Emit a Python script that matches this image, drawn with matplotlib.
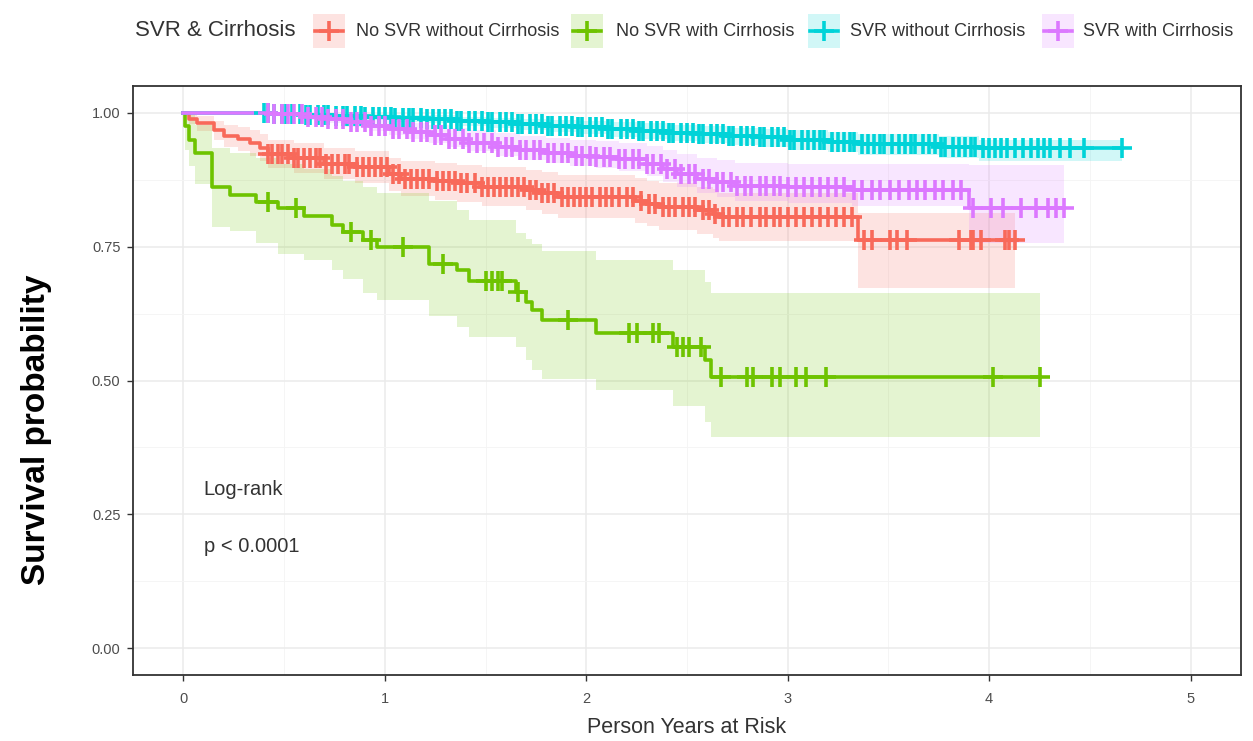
import numpy as np
import matplotlib
matplotlib.use("Agg")
import matplotlib.pyplot as plt
from matplotlib.lines import Line2D
from matplotlib.patches import Rectangle

# ---------------- data ----------------
groups = ["No SVR without Cirrhosis", "No SVR with Cirrhosis",
          "SVR without Cirrhosis", "SVR with Cirrhosis"]
colors = ["#F8695A", "#6EC300", "#00D3D8", "#DC78FF"]

# No SVR without Cirrhosis
red_time = [0, 0.03, 0.07, 0.15, 0.20, 0.27, 0.33, 0.38, 0.42, 0.55, 0.70, 0.85, 1.02, 1.08,
            1.25, 1.36, 1.48, 1.70, 1.78, 1.86, 2.24, 2.30, 2.36, 2.55, 2.63, 2.66, 3.35]
red_surv = [1.0, 0.989, 0.980, 0.967, 0.957, 0.951, 0.944, 0.935, 0.923, 0.915, 0.905, 0.898, 0.885, 0.877,
            0.872, 0.868, 0.861, 0.856, 0.850, 0.843, 0.836, 0.830, 0.824, 0.818, 0.811, 0.805, 0.762]
red_upper = [1.0, 0.998, 0.994, 0.985, 0.978, 0.973, 0.968, 0.960, 0.950, 0.943, 0.934, 0.928, 0.916, 0.910,
             0.906, 0.903, 0.898, 0.894, 0.889, 0.884, 0.878, 0.873, 0.868, 0.862, 0.857, 0.851, 0.812]
red_lower = [1.0, 0.979, 0.966, 0.949, 0.936, 0.929, 0.920, 0.910, 0.896, 0.887, 0.876, 0.868, 0.854, 0.845,
             0.838, 0.833, 0.825, 0.818, 0.811, 0.803, 0.795, 0.788, 0.781, 0.774, 0.766, 0.760, 0.673]
red_censor = [0.42, 0.44, 0.47, 0.49, 0.52, 0.55, 0.57, 0.60, 0.63, 0.66, 0.68, 0.71, 0.74, 0.77, 0.80,
              0.82, 0.86, 0.89, 0.92, 0.95, 0.98, 1.01, 1.04, 1.07, 1.10, 1.13, 1.16, 1.19, 1.22, 1.26,
              1.29, 1.32, 1.35, 1.38, 1.41, 1.45, 1.48, 1.51, 1.54, 1.57, 1.60, 1.63, 1.66, 1.69, 1.72,
              1.75, 1.78, 1.81, 1.84, 1.88, 1.91, 1.94, 1.97, 2.00, 2.03, 2.07, 2.10, 2.13, 2.16, 2.20,
              2.23, 2.27, 2.31, 2.34, 2.38, 2.41, 2.44, 2.48, 2.51, 2.54, 2.58, 2.61, 2.64, 2.68, 2.71,
              2.75, 2.78, 2.82, 2.86, 2.89, 2.93, 2.96, 3.00, 3.04, 3.08, 3.12, 3.16, 3.20, 3.24, 3.28,
              3.32, 3.38, 3.42, 3.51, 3.54, 3.59, 3.85, 3.91, 3.92, 3.96, 4.08, 4.10, 4.13]

# No SVR with Cirrhosis
green_time = [0, 0.01, 0.03, 0.06, 0.14, 0.23, 0.36, 0.47, 0.60, 0.74, 0.79, 0.89, 0.96, 1.22,
              1.36, 1.42, 1.65, 1.70, 1.73, 1.78, 2.05, 2.43, 2.59, 2.62]
green_surv = [1.0, 0.975, 0.950, 0.924, 0.861, 0.846, 0.833, 0.822, 0.808, 0.790, 0.777, 0.762, 0.749, 0.718,
              0.706, 0.685, 0.666, 0.647, 0.632, 0.613, 0.589, 0.563, 0.538, 0.507]
green_upper = [1.0, 1.0, 0.995, 0.978, 0.935, 0.925, 0.915, 0.905, 0.895, 0.882, 0.872, 0.862, 0.851, 0.836,
               0.818, 0.800, 0.775, 0.765, 0.755, 0.742, 0.725, 0.706, 0.684, 0.664]
green_lower = [1.0, 0.930, 0.900, 0.867, 0.787, 0.780, 0.756, 0.737, 0.725, 0.706, 0.690, 0.663, 0.650, 0.620,
               0.600, 0.582, 0.563, 0.539, 0.520, 0.502, 0.483, 0.452, 0.422, 0.394]
green_censor = [0.42, 0.56, 0.83, 0.93, 1.09, 1.29, 1.50, 1.53, 1.56, 1.58, 1.66, 1.91, 2.21, 2.25, 2.33,
                2.36, 2.45, 2.48, 2.51, 2.57, 2.67, 2.80, 2.83, 2.92, 2.96, 3.04, 3.09, 3.19, 4.02, 4.25]

# SVR without Cirrhosis
cyan_time = [0, 0.45, 0.60, 0.75, 0.90, 1.05, 1.20, 1.35, 1.50, 1.65, 1.80, 1.95, 2.10, 2.25, 2.40,
             2.55, 2.70, 2.85, 3.00, 3.20, 3.35, 3.75, 3.95]
cyan_surv = [1.0, 0.998, 0.996, 0.994, 0.992, 0.990, 0.988, 0.985, 0.982, 0.979, 0.976, 0.973, 0.969, 0.966,
             0.963, 0.960, 0.957, 0.954, 0.950, 0.946, 0.942, 0.937, 0.934]
cyan_upper = [1.0, 1.0, 0.999, 0.998, 0.997, 0.996, 0.995, 0.993, 0.991, 0.989, 0.987, 0.985, 0.982, 0.980,
              0.977, 0.975, 0.972, 0.970, 0.967, 0.964, 0.961, 0.957, 0.950]
cyan_lower = [1.0, 0.995, 0.992, 0.989, 0.986, 0.983, 0.980, 0.976, 0.972, 0.968, 0.964, 0.960, 0.955, 0.951,
              0.947, 0.943, 0.940, 0.936, 0.931, 0.926, 0.922, 0.915, 0.910]
cyan_censor = [0.40, 0.42, 0.45, 0.49, 0.51, 0.54, 0.58, 0.61, 0.63, 0.67, 0.70, 0.72, 0.76, 0.79, 0.81,
               0.85, 0.88, 0.90, 0.94, 0.97, 1.00, 1.03, 1.05, 1.09, 1.12, 1.14, 1.18, 1.21, 1.24, 1.27,
               1.30, 1.33, 1.36, 1.38, 1.42, 1.45, 1.48, 1.51, 1.53, 1.57, 1.60, 1.63, 1.66, 1.68, 1.72,
               1.75, 1.78, 1.81, 1.83, 1.87, 1.90, 1.93, 1.96, 1.98, 2.02, 2.05, 2.08, 2.11, 2.13, 2.17,
               2.20, 2.23, 2.26, 2.28, 2.32, 2.35, 2.38, 2.41, 2.43, 2.47, 2.50, 2.53, 2.56, 2.58, 2.62,
               2.65, 2.68, 2.71, 2.73, 2.77, 2.80, 2.83, 2.86, 2.88, 2.92, 2.95, 2.98, 3.01, 3.03, 3.07,
               3.10, 3.13, 3.16, 3.18, 3.22, 3.25, 3.28, 3.31, 3.33, 3.37, 3.40, 3.43, 3.46, 3.48, 3.52,
               3.55, 3.58, 3.61, 3.63, 3.67, 3.70, 3.73, 3.76, 3.78, 3.82, 3.85, 3.88, 3.91, 3.93, 3.97,
               4.00, 4.03, 4.06, 4.09, 4.13, 4.17, 4.21, 4.24, 4.27, 4.30, 4.35, 4.40, 4.47, 4.66]

# SVR with Cirrhosis
purple_time = [0, 0.45, 0.60, 0.70, 0.80, 0.92, 1.02, 1.12, 1.22, 1.32, 1.42, 1.55, 1.67, 1.80, 1.92,
               2.05, 2.16, 2.30, 2.38, 2.45, 2.55, 2.65, 2.74, 3.00, 3.32, 3.90]
purple_surv = [1.0, 0.998, 0.993, 0.988, 0.983, 0.976, 0.970, 0.964, 0.958, 0.951, 0.944, 0.937, 0.930, 0.925,
               0.920, 0.917, 0.913, 0.905, 0.895, 0.886, 0.877, 0.870, 0.864, 0.861, 0.855, 0.822]
purple_upper = [1.0, 1.0, 0.999, 0.997, 0.994, 0.989, 0.985, 0.981, 0.977, 0.972, 0.967, 0.962, 0.957, 0.953,
                0.949, 0.947, 0.944, 0.938, 0.930, 0.923, 0.916, 0.911, 0.907, 0.905, 0.905, 0.902]
purple_lower = [1.0, 0.994, 0.987, 0.980, 0.974, 0.966, 0.958, 0.951, 0.944, 0.936, 0.928, 0.920, 0.912, 0.906,
                0.900, 0.896, 0.891, 0.882, 0.871, 0.861, 0.851, 0.843, 0.836, 0.832, 0.826, 0.756]
purple_censor = [0.42, 0.45, 0.49, 0.52, 0.55, 0.59, 0.62, 0.66, 0.69, 0.72, 0.76, 0.79, 0.83, 0.86, 0.90,
                 0.93, 0.97, 1.00, 1.04, 1.07, 1.11, 1.14, 1.18, 1.21, 1.25, 1.28, 1.32, 1.35, 1.39, 1.42,
                 1.46, 1.49, 1.53, 1.56, 1.60, 1.63, 1.67, 1.70, 1.74, 1.77, 1.81, 1.84, 1.88, 1.91, 1.95,
                 1.98, 2.02, 2.05, 2.09, 2.12, 2.16, 2.19, 2.23, 2.26, 2.30, 2.33, 2.37, 2.40, 2.44, 2.47,
                 2.51, 2.54, 2.58, 2.61, 2.65, 2.68, 2.72, 2.75, 2.79, 2.82, 2.86, 2.89, 2.93, 2.96, 3.00,
                 3.04, 3.08, 3.12, 3.16, 3.20, 3.24, 3.28, 3.33, 3.37, 3.42, 3.46, 3.51, 3.55, 3.60, 3.64,
                 3.68, 3.73, 3.77, 3.82, 3.86, 3.92, 4.01, 4.07, 4.16, 4.23, 4.29, 4.33, 4.37]

series = [
    (red_time, red_surv, red_lower, red_upper, red_censor),
    (green_time, green_surv, green_lower, green_upper, green_censor),
    (cyan_time, cyan_surv, cyan_lower, cyan_upper, cyan_censor),
    (purple_time, purple_surv, purple_lower, purple_upper, purple_censor),
]

x_ticks = [0, 1, 2, 3, 4, 5]
y_ticks = [0.00, 0.25, 0.50, 0.75, 1.00]
y_tick_labels = ["0.00", "0.25", "0.50", "0.75", "1.00"]

# ---------------- figure ----------------
W, H = 1253, 741
fig = plt.figure(figsize=(W / 100, H / 100), dpi=100)
fig.patch.set_facecolor("white")
ax = fig.add_axes([133 / W, 1 - 675 / H, (1241 - 133) / W, (675 - 86) / H])

font = "Liberation Sans"
band_alpha = 0.18
line_w = 2.6
mark_size = 14
mark_w = 2.6

def step_arrays(t, v, t_end):
    return np.append(np.asarray(t, float), t_end), np.append(np.asarray(v, float), v[-1])

# confidence bands
for (t, s, lo, hi, cen), c in zip(series, colors):
    t_end = max(cen)
    tt, ll = step_arrays(t, lo, t_end)
    _, hh = step_arrays(t, hi, t_end)
    ax.fill_between(tt, ll, hh, step="post", color=c, alpha=band_alpha, lw=0, zorder=2)

# survival curves
for (t, s, lo, hi, cen), c in zip(series, colors):
    t_end = max(cen)
    tt, ss = step_arrays(t, s, t_end)
    ax.step(tt, ss, where="post", color=c, lw=line_w, zorder=3)

# censoring marks
for (t, s, lo, hi, cen), c in zip(series, colors):
    t_arr = np.asarray(t, float)
    s_arr = np.asarray(s, float)
    idx = np.searchsorted(t_arr, np.asarray(cen, float), side="right") - 1
    ax.plot(cen, s_arr[idx], ls="none", marker="+", ms=mark_size, mew=mark_w, color=c, zorder=4)

ax.set_xlim(-0.25, 5.25)
ax.set_ylim(-0.05, 1.05)
ax.set_xticks(x_ticks)
ax.set_xticklabels([str(v) for v in x_ticks])
ax.set_yticks(y_ticks)
ax.set_yticklabels(y_tick_labels)
ax.set_xticks(np.array(x_ticks[:-1]) + 0.5, minor=True)
ax.set_yticks(np.array(y_ticks[:-1]) + 0.125, minor=True)
ax.grid(which="major", color="#EBEBEB", lw=1.1, zorder=0)
ax.grid(which="minor", color="#F4F4F4", lw=0.6, zorder=0)
ax.set_axisbelow(True)
ax.tick_params(which="minor", length=0)
ax.tick_params(which="major", length=4, width=1.0, color="#333333",
               labelcolor="#4D4D4D", labelsize=10.5)
ax.tick_params(axis="x", pad=8)
ax.tick_params(axis="y", pad=5)
for lab in ax.get_xticklabels() + ax.get_yticklabels():
    lab.set_fontfamily(font)
for sp in ax.spines.values():
    sp.set_color("#333333")
    sp.set_linewidth(1.3)

ax.set_xlabel("Person Years at Risk", fontsize=15.5, family=font, color="#333333", labelpad=8)
fig.text(37 / W, 1 - 430 / H, "Survival probability", rotation=90, fontsize=24,
         fontweight="bold", family=font, color="black", ha="center", va="center")

ax.text(0.1, 0.297, "Log-rank", fontsize=14.5, family=font, color="#333333", va="center", ha="left")
ax.text(0.1, 0.19, "p < 0.0001", fontsize=14.5, family=font, color="#333333", va="center", ha="left")

# legend across the top
ly = 1 - 31 / H
fig.text(135 / W, ly, "SVR & Cirrhosis", fontsize=16, family=font, color="#333333",
         ha="left", va="center")
box_left = [313, 571, 808, 1042]
text_left = [356, 616, 850, 1083]
bw, bh = 32, 34
for name, c, bx, tx in zip(groups, colors, box_left, text_left):
    fig.add_artist(Rectangle((bx / W, ly - bh / 2 / H), bw / W, bh / H, transform=fig.transFigure,
                             facecolor=c, alpha=band_alpha, lw=0))
    fig.add_artist(Line2D([(bx + 2) / W, (bx + bw - 2) / W], [ly, ly], transform=fig.transFigure,
                          color=c, lw=line_w))
    fig.add_artist(Line2D([(bx + bw / 2) / W], [ly], transform=fig.transFigure, color=c,
                          marker="+", ms=mark_size, mew=mark_w, ls="none"))
    fig.text(tx / W, ly, name, fontsize=13, family=font, color="#333333", ha="left", va="center")

fig.savefig("out.png", dpi=100, facecolor="white")
